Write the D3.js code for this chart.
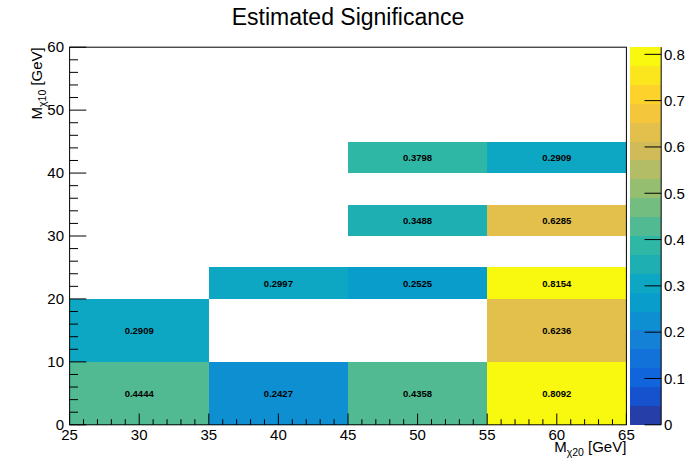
<!DOCTYPE html>
<html>
<head>
<meta charset="utf-8">
<script src="https://cdn.jsdelivr.net/npm/d3@7"></script>
<style>
  html, body { margin: 0; padding: 0; background: #fff; }
  svg { display: block; font-family: "Liberation Sans", Arial, sans-serif; }
</style>
</head>
<body>
<svg id="chart" width="696" height="472"></svg>
<script>
// ---- data ----
const title = "Estimated Significance";
const xEdgesLow  = [25, 35, 45, 55, 25, 55, 35, 45, 55, 45, 55, 45, 55];
const xEdgesHigh = [35, 45, 55, 65, 35, 65, 45, 55, 65, 55, 65, 55, 65];
const yEdgesLow  = [0, 0, 0, 0, 10, 10, 20, 20, 20, 30, 30, 40, 40];
const yEdgesHigh = [10, 10, 10, 10, 20, 20, 25, 25, 25, 35, 35, 45, 45];
const values     = [0.4444, 0.2427, 0.4358, 0.8092, 0.2909, 0.6236, 0.2997, 0.2525, 0.8154, 0.3488, 0.6285, 0.3798, 0.2909];
const xTicks = [25, 30, 35, 40, 45, 50, 55, 60, 65];
const yTicks = [0, 10, 20, 30, 40, 50, 60];
const zTicks = [0, 0.1, 0.2, 0.3, 0.4, 0.5, 0.6, 0.7, 0.8];
const xDomain = [25, 65];
const yDomain = [0, 60];
const nLevels = 20;

// ---- kBird palette (ROOT) ----
const stops = [0.0000, 0.1250, 0.2500, 0.3750, 0.5000, 0.6250, 0.7500, 0.8750, 1.0000];
const red   = [0.2082, 0.0592, 0.0780, 0.0232, 0.1802, 0.5301, 0.8186, 0.9956, 0.9764];
const green = [0.1664, 0.3599, 0.5041, 0.6419, 0.7178, 0.7492, 0.7328, 0.7862, 0.9832];
const blue  = [0.5293, 0.8684, 0.8385, 0.7914, 0.6425, 0.4662, 0.3499, 0.1968, 0.0539];
const NCOL = 255;
const palette = [];
for (let g = 1; g < stops.length; g++) {
  const n = Math.floor(NCOL * stops[g]) - Math.floor(NCOL * stops[g - 1]);
  for (let c = 0; c < n; c++) {
    const r = red[g - 1] + c * (red[g] - red[g - 1]) / n;
    const gg = green[g - 1] + c * (green[g] - green[g - 1]) / n;
    const b = blue[g - 1] + c * (blue[g] - blue[g - 1]) / n;
    palette.push(d3.rgb(Math.round(r * 255), Math.round(gg * 255), Math.round(b * 255)).toString());
  }
}
const zMin = 0, zMax = d3.max(values);
function levelColor(k) {
  let idx = Math.floor((k + 0.99) * NCOL / nLevels);
  if (idx > NCOL - 1) idx = NCOL - 1;
  return palette[idx];
}
function zColor(z) {
  let k = Math.floor(0.01 + (z - zMin) * nLevels / (zMax - zMin));
  return levelColor(k);
}

// ---- layout ----
const W = 696, H = 472;
const fx0 = 69.6, fx1 = 626.4, fy0 = 47.2, fy1 = 424.8;
const svg = d3.select("#chart");
const x = d3.scaleLinear().domain(xDomain).range([fx0, fx1]);
const y = d3.scaleLinear().domain(yDomain).range([fy1, fy0]);

// cells
const cells = values.map((v, i) => ({x0: xEdgesLow[i], x1: xEdgesHigh[i], y0: yEdgesLow[i], y1: yEdgesHigh[i], v}));
svg.append("g").selectAll("rect").data(cells).join("rect")
  .attr("x", d => x(d.x0)).attr("y", d => y(d.y1))
  .attr("width", d => x(d.x1) - x(d.x0)).attr("height", d => y(d.y0) - y(d.y1))
  .attr("fill", d => zColor(d.v)).attr("shape-rendering", "crispEdges");
svg.append("g").selectAll("text").data(cells).join("text")
  .attr("x", d => x((d.x0 + d.x1) / 2)).attr("y", d => y((d.y0 + d.y1) / 2))
  .attr("text-anchor", "middle").attr("dy", "0.35em")
  .attr("font-size", 9.5).attr("font-weight", "bold").attr("fill", "#000")
  .text(d => d.v.toFixed(4));

// frame
svg.append("rect").attr("x", fx0).attr("y", fy0).attr("width", fx1 - fx0).attr("height", fy1 - fy0)
  .attr("fill", "none").attr("stroke", "#000").attr("stroke-width", 1);

// x axis
const xMinor = d3.range(xDomain[0], xDomain[1] + 0.001, 1);
const gx = svg.append("g");
gx.selectAll("line.mi").data(xMinor).join("line")
  .attr("x1", d => x(d)).attr("x2", d => x(d))
  .attr("y1", fy1).attr("y2", d => fy1 - (xTicks.includes(d) ? 11.3 : 5.6))
  .attr("stroke", "#000");
gx.selectAll("text").data(xTicks).join("text")
  .attr("x", d => x(d)).attr("y", 440).attr("text-anchor", "middle")
  .attr("font-size", 15).text(d => d);

// y axis
const yMinor = d3.range(yDomain[0], yDomain[1] + 0.001, 2);
const gy = svg.append("g");
gy.selectAll("line").data(yMinor).join("line")
  .attr("y1", d => y(d)).attr("y2", d => y(d))
  .attr("x1", fx0).attr("x2", d => fx0 + (yTicks.includes(d) ? 16.7 : 8.4))
  .attr("stroke", "#000");
gy.selectAll("text").data(yTicks).join("text")
  .attr("x", 64).attr("y", d => y(d)).attr("dy", "0.35em").attr("text-anchor", "end")
  .attr("font-size", 15).text(d => d);

// colour bar
const cx0 = 629.9, cx1 = 661.2;
const z = d3.scaleLinear().domain([zMin, zMax]).range([fy1, fy0]);
const levels = d3.range(nLevels);
svg.append("g").selectAll("rect").data(levels).join("rect")
  .attr("x", cx0).attr("width", cx1 - cx0)
  .attr("y", k => z(zMin + (k + 1) * (zMax - zMin) / nLevels))
  .attr("height", k => z(zMin + k * (zMax - zMin) / nLevels) - z(zMin + (k + 1) * (zMax - zMin) / nLevels))
  .attr("fill", k => levelColor(k)).attr("shape-rendering", "crispEdges");
svg.append("line").attr("x1", cx1).attr("x2", cx1).attr("y1", fy0).attr("y2", fy1).attr("stroke", "#000");
const gz = svg.append("g");
gz.selectAll("line").data(zTicks).join("line")
  .attr("x1", cx1 - 16.7).attr("x2", cx1).attr("y1", d => z(d)).attr("y2", d => z(d)).attr("stroke", "#000");
gz.selectAll("text").data(zTicks).join("text")
  .attr("x", 664).attr("y", d => z(d)).attr("dy", "0.35em").attr("font-size", 15)
  .text(d => d === 0 ? "0" : d.toFixed(1));

// title
svg.append("text").attr("x", W / 2).attr("y", 25).attr("text-anchor", "middle")
  .attr("font-size", 23).text(title);

// axis titles
const xt = svg.append("text").attr("x", fx1).attr("y", 452).attr("text-anchor", "end").attr("font-size", 15);
xt.append("tspan").text("M");
xt.append("tspan").attr("font-size", 10.5).attr("dy", 4).text("χ20");
xt.append("tspan").attr("dy", -4).text(" [GeV]");

const yt = svg.append("text").attr("transform", `translate(42,${fy0}) rotate(-90)`)
  .attr("text-anchor", "end").attr("font-size", 15);
yt.append("tspan").text("M");
yt.append("tspan").attr("font-size", 10.5).attr("dy", 4).text("χ10");
yt.append("tspan").attr("dy", -4).text(" [GeV]");
</script>
</body>
</html>
